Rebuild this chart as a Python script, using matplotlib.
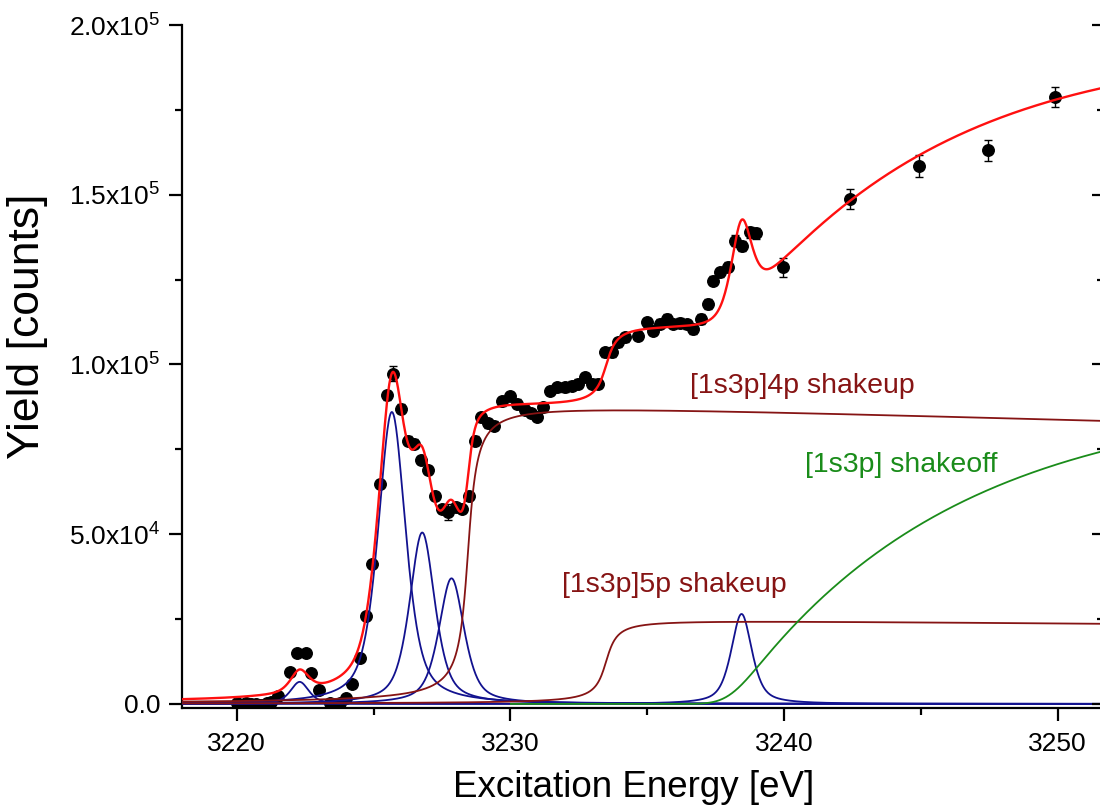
import math
import numpy as np
import matplotlib
matplotlib.use("Agg")
import matplotlib.pyplot as plt

# measured yield (scan)
energy = [3220.0, 3220.17, 3220.35, 3220.54, 3220.72, 3220.9, 3221.09, 3221.27,
          3221.51, 3221.94, 3222.2, 3222.52, 3222.73, 3223.0, 3223.4, 3223.58,
          3223.77, 3223.99, 3224.23, 3224.5, 3224.74, 3224.94, 3225.23, 3225.5,
          3225.72, 3225.99, 3226.27, 3226.47, 3226.72, 3226.99, 3227.24, 3227.52,
          3227.73, 3228.0, 3228.22, 3228.49, 3228.72, 3228.93, 3229.17, 3229.4,
          3229.71, 3229.98, 3230.25, 3230.53, 3230.77, 3230.98, 3231.2, 3231.44,
          3231.69, 3232.0, 3232.24, 3232.48, 3232.72, 3232.97, 3233.21, 3233.46,
          3233.7, 3233.95, 3234.19, 3234.67, 3234.98, 3235.22, 3235.47, 3235.71,
          3235.95, 3236.2, 3236.44, 3236.68, 3236.95, 3237.23, 3237.41, 3237.66,
          3237.96, 3238.21, 3238.45, 3238.76, 3238.98, 3239.97, 3242.41, 3244.95,
          3247.47, 3249.9]
counts = [200, -200, 200, 0, 100, -300, 400, 600,
          2400, 9300, 14900, 15100, 9000, 4000, 200, 0,
          400, 1700, 6000, 13500, 25900, 41200, 64700, 90900,
          97300, 87000, 77600, 76700, 71800, 69000, 61200, 57300,
          56600, 58000, 57500, 61200, 77600, 84400, 82700, 82000,
          89200, 90600, 88400, 86700, 85700, 84500, 87400, 92200,
          93300, 93300, 93800, 94300, 96300, 94300, 94300, 103600,
          103600, 106500, 108000, 108500, 112400, 110000, 112000, 113400,
          112000, 112200, 111800, 110500, 113400, 117800, 124700, 127100,
          128800, 136500, 135000, 138900, 138600, 128600, 148800, 158500,
          163100, 178800]
count_err = [300, 300, 300, 300, 300, 300, 300, 300,
             400, 600, 700, 700, 600, 400, 300, 300,
             300, 400, 600, 700, 900, 1000, 1200, 1300,
             2300, 1300, 1200, 1200, 1200, 1200, 1200, 1200,
             2300, 1200, 1200, 1200, 1200, 1300, 1300, 1300,
             1300, 1300, 1300, 1300, 1300, 1300, 1300, 1300,
             1300, 1300, 1300, 1300, 1300, 1300, 1300, 1300,
             1300, 1300, 1300, 1300, 1400, 1400, 1400, 1400,
             1400, 1400, 1400, 1400, 1400, 1400, 1400, 1400,
             1400, 1500, 1500, 1500, 1500, 2700, 2900, 3200,
             3100, 3000]

# resonance peaks (blue): centre, height, half width
peak_center = [3222.3, 3225.67, 3226.78, 3227.85, 3238.45]
peak_height = [6500, 86000, 50500, 37000, 26500]
peak_hwhm = [0.40, 0.60, 0.55, 0.55, 0.45]
lorentz_frac = 0.6

# shakeup steps (brown): edge, height, edge width, slope after edge
step_edge = [3228.45, 3233.5]
step_height = [89000, 25000]
step_width = [0.25, 0.30]
step_slope = [-230, -70]
step_text = ['[1s3p]4p shakeup', '[1s3p]5p shakeup']

# shakeoff (green): threshold, height, decay length, broadening
off_edge = 3238.0
off_height = 91000
off_tau = 8.0
off_sigma = 0.6
off_text = '[1s3p] shakeoff'

blue = '#12128f'
brown = '#861414'
green = '#1a8c1a'
red = '#ff1010'


def peak(x, c, h, g):
    lor = g**2 / ((x - c)**2 + g**2)
    gau = np.exp(-np.log(2) * ((x - c) / g)**2)
    return h * (lorentz_frac * lor + (1 - lorentz_frac) * gau)


def step(x, e, h, w, s):
    return (0.5 + np.arctan((x - e) / w) / np.pi) * (h + s * (x - e))


def shakeoff(x, e, h, tau, sig):
    erf = np.vectorize(math.erf)
    d = x - e
    phi1 = 0.5 * (1 + erf(d / (sig * np.sqrt(2))))
    phi2 = 0.5 * (1 + erf((d / sig - sig / tau) / np.sqrt(2)))
    return h * (phi1 - np.exp(-d / tau + sig**2 / (2 * tau**2)) * phi2)


plt.rcParams['font.family'] = ['Liberation Sans', 'DejaVu Sans']
plt.rcParams['mathtext.default'] = 'regular'

fig = plt.figure(figsize=(11, 8.1), dpi=100)
ax = fig.add_axes([182 / 1100, 102 / 810, 921 / 1100, 683 / 810])

x = np.linspace(3218, 3252, 1500)
total = np.zeros_like(x)

ax.errorbar(energy, counts, yerr=count_err, fmt='o', color='black', ms=8.3,
            elinewidth=1, capsize=3, capthick=1, zorder=2)

for c, h, g in zip(peak_center, peak_height, peak_hwhm):
    y = peak(x, c, h, g)
    total += y
    ax.plot(x, y, color=blue, lw=1.3, zorder=3)

for e, h, w, s in zip(step_edge, step_height, step_width, step_slope):
    y = step(x, e, h, w, s)
    total += y
    ax.plot(x, y, color=brown, lw=1.3, zorder=3)

y_off = shakeoff(x, off_edge, off_height, off_tau, off_sigma)
total += y_off
sel = x >= 3230
ax.plot(x[sel], y_off[sel], color=green, lw=1.3, zorder=3)

ax.plot(x, total, color=red, lw=1.7, zorder=4)

ax.text(3240.66, 93800, step_text[0], color=brown, fontsize=20.5, ha='center', va='center')
ax.text(3236.0, 35000, step_text[1], color=brown, fontsize=20.5, ha='center', va='center')
ax.text(3244.3, 70300, off_text, color=green, fontsize=20.5, ha='center', va='center')

ax.set_xlim(3218, 3251.66)
ax.set_ylim(-1200, 200000)
ax.set_xticks([3220, 3230, 3240, 3250])
ax.set_xticks([3225, 3235, 3245], minor=True)
ax.set_yticks([0, 50000, 100000, 150000, 200000])
ax.set_yticklabels(['0.0', r'5.0x10$^4$', r'1.0x10$^5$', r'1.5x10$^5$', r'2.0x10$^5$'])
ax.set_yticks([25000, 75000, 125000, 175000], minor=True)

ax.spines['top'].set_visible(False)
for side in ['left', 'bottom', 'right']:
    ax.spines[side].set_linewidth(1.6)

ax.tick_params(axis='both', which='major', direction='out', length=9.5, width=1.6, labelsize=19, pad=6)
ax.tick_params(axis='both', which='minor', direction='out', length=5, width=1.6)
ax.tick_params(axis='x', which='major', labelsize=19, pad=8)

# right-hand axis: ticks only, pointing inwards
ax2 = ax.twinx()
ax2.set_ylim(ax.get_ylim())
ax2.set_yticks([0, 50000, 100000, 150000, 200000])
ax2.set_yticks([25000, 75000, 125000, 175000], minor=True)
ax2.tick_params(axis='y', which='major', direction='in', length=8, width=1.6, labelright=False)
ax2.tick_params(axis='y', which='minor', direction='in', length=4, width=1.6)
for side in ['top', 'left', 'bottom']:
    ax2.spines[side].set_visible(False)

ax.set_xlabel('Excitation Energy [eV]', fontsize=26.5)
ax.xaxis.set_label_coords(0.49, -0.091)
ax.set_ylabel('Yield [counts]', fontsize=32)
ax.yaxis.set_label_coords(-0.146, 0.559)

fig.savefig('out.png', dpi=100)
